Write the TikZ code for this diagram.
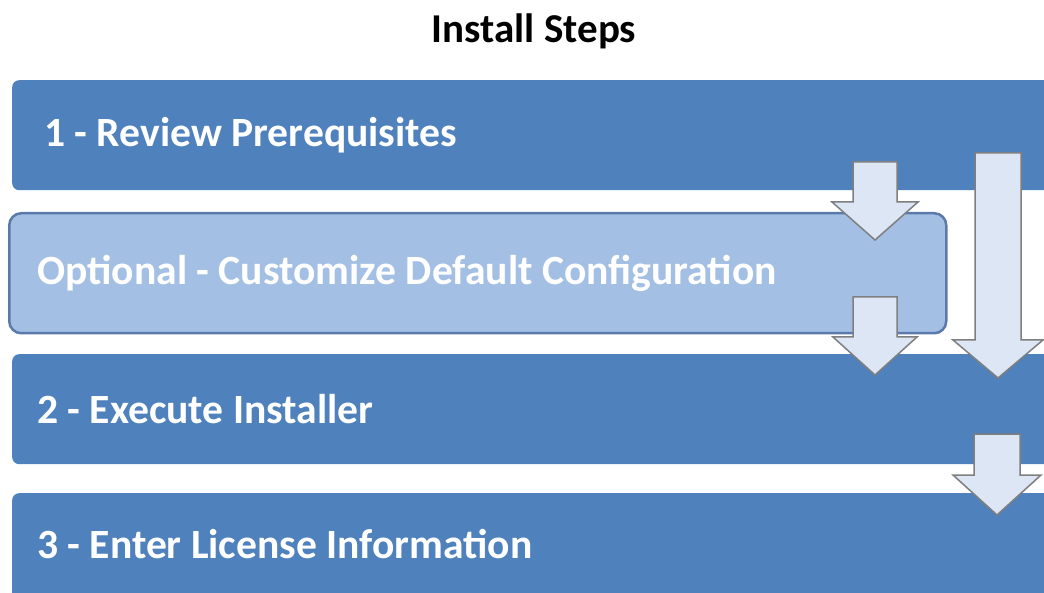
\documentclass[tikz,border=0pt]{standalone}
\usepackage{fontspec}
\setmainfont{Carlito}
\usetikzlibrary{positioning}

\definecolor{stepblue}{HTML}{4F81BD}
\definecolor{optfill}{HTML}{A3BFE4}
\definecolor{optline}{HTML}{5A7AAC}
\definecolor{arrowfill}{HTML}{DCE6F4}
\definecolor{arrowline}{HTML}{7F7F7F}

% down block arrow: centre x, shaft half width, head half width, top, neck, tip
\newcommand{\stepArrow}[6]{%
  \draw[flowarrow] (#1-#2,#4) -- (#1+#2,#4) -- (#1+#2,#5) -- (#1+#3,#5)
    -- (#1,#6) -- (#1-#3,#5) -- (#1-#2,#5) -- cycle;}

\begin{document}
\begin{tikzpicture}[x=1pt,y=-1pt,
    stepbox/.style={fill=stepblue,rounded corners=7pt,anchor=north west,
      minimum width=1100pt,minimum height=110pt},
    optbox/.style={stepbox,fill=optfill,draw=optline,line width=2.5pt,
      rounded corners=12pt,minimum width=937pt,minimum height=120pt},
    steplabel/.style={text=white,inner sep=0pt,anchor=west,
      font=\fontsize{41.6}{48}\selectfont\bfseries},
    flowarrow/.style={fill=arrowfill,draw=arrowline,line width=1.5pt,line join=miter}]
  \useasboundingbox (0,0) rectangle (1044,593);
  \clip (0,0) rectangle (1044,593);

  \node[font=\fontsize{41}{48}\selectfont\bfseries] (title) at (534,31) {Install Steps};

  \node[stepbox] (review) at (12,80) {};
  \node[optbox] (custom) at (8,212) {};
  \node[stepbox] (execute) at (12,354) {};
  \node[stepbox] (license) at (12,493) {};

  \node[steplabel,right=32pt of review.west] {1 - Review Prerequisites};
  \node[steplabel,right=29pt of custom.west] {Optional - Customize Default Configuration};
  \node[steplabel,right=25pt of execute.west] {2 - Execute Installer};
  \node[steplabel,right=25pt of license.west,yshift=4pt] {3 - Enter License Information};

  \stepArrow{875}{22}{43}{162}{202}{240}
  \stepArrow{875}{22}{42}{297}{337}{375}
  \stepArrow{998}{23}{45}{153}{340}{378}
  \stepArrow{997}{23}{44}{434}{475}{515}
\end{tikzpicture}
\end{document}
